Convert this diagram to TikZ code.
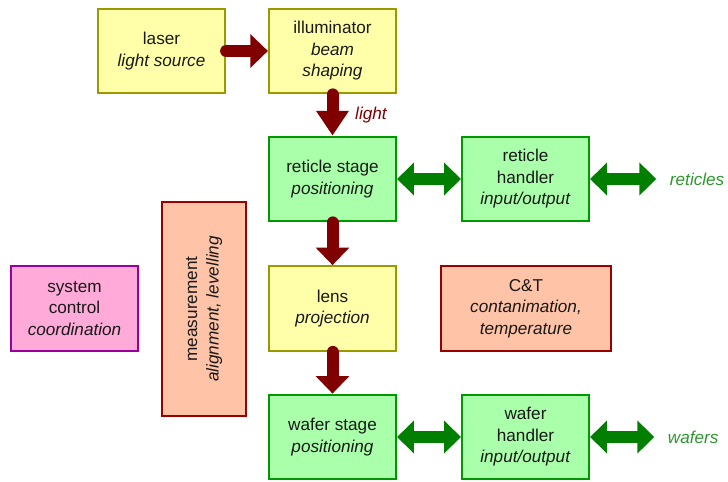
\documentclass[tikz,border=0pt]{standalone}
\usepackage{fontspec}
\setmainfont{Liberation Sans}
\usetikzlibrary{arrows.meta}
\definecolor{optfill}{HTML}{FFFFAA}
\definecolor{optdraw}{HTML}{9A9A00}
\definecolor{mechfill}{HTML}{AAFFAA}
\definecolor{mechdraw}{HTML}{009A00}
\definecolor{ctrlfill}{HTML}{FFAAD8}
\definecolor{ctrldraw}{HTML}{990099}
\definecolor{metrofill}{HTML}{FFC4A8}
\definecolor{metrodraw}{HTML}{990000}
\definecolor{beam}{HTML}{800000}
\definecolor{handling}{HTML}{007F00}
\definecolor{handlingtext}{HTML}{2F962F}
\tikzset{
    block/.style = { draw, line width=1.4pt, align=center, text=black!90,
                     minimum width=3.18cm, minimum height=2.12cm, inner sep=2pt },
    optics/.style = { block, fill=optfill, draw=optdraw },
    mech/.style = { block, fill=mechfill, draw=mechdraw },
    ctrl/.style = { block, fill=ctrlfill, draw=ctrldraw },
    metro/.style = { block, fill=metrofill, draw=metrodraw }
}

\begin{document}
\begin{tikzpicture}[
    x=0.025cm, y=-0.025cm,
    font=\fontsize{12.2pt}{15.3pt}\selectfont,
    flow/.style = { line width=0.3cm, beam, line cap=round,
                    -{Triangle[width=0.82cm, length=0.44cm]} },
    transfer/.style = { line width=0.3cm, handling,
                        {Triangle[width=0.8cm, length=0.42cm]}-{Triangle[width=0.8cm, length=0.42cm]} },
    outside/.style = { handlingtext, font=\fontsize{12.2pt}{15.3pt}\selectfont\itshape, anchor=west }
    ]
    \useasboundingbox (0,0) rectangle (728,481);

    %%%
    %%% Light path
    %%%
    \node[optics] (laser)  at (161.5,51)  {laser\\\textit{light source}};
    \node[optics] (illum)  at (332.5,51)  {illuminator\\\textit{beam}\\\textit{shaping}};
    \node[mech]   (rstage) at (332.5,179) {reticle stage\\\textit{positioning}};
    \node[optics] (lens)   at (332.5,308.5) {lens\\\textit{projection}};
    \node[mech]   (wstage) at (332.5,437) {wafer stage\\\textit{positioning}};
    % Beam arrows
    \draw[flow] (laser.east) -- (illum.west);
    \draw[flow, -{Triangle[width=0.78cm, length=0.62cm]}] (illum.south)
      -- node[right=0.3cm, beam, font=\fontsize{12.2pt}{15.3pt}\selectfont\itshape] {light} (rstage.north);
    \draw[flow] (rstage.south) -- (lens.north);
    \draw[flow] (lens.south) -- (wstage.north);

    %%%
    %%% Handlers
    %%%
    \node[mech] (rhandler) at (525.5,179) {reticle\\handler\\\textit{input/output}};
    \node[mech] (whandler) at (525.5,437) {wafer\\handler\\\textit{input/output}};
    \node[outside] (reticles) at (665,179) {reticles};
    \node[outside] (wafers)   at (663,437) {wafers};
    % Transfer arrows
    \foreach \from / \to in {rstage/rhandler, wstage/whandler}
      {
        \draw[transfer] (\from.east) -- (\to.west);
      }
    \draw[transfer] (rhandler.east) -- ([xshift=-0.22cm]reticles.west);
    \draw[transfer] (whandler.east) -- ([xshift=-0.22cm]wafers.west);

    %%%
    %%% Control and metrology
    %%%
    \node[ctrl]  (syscon) at (74.5,308.5) {system\\control\\\textit{coordination}};
    \node[metro, minimum width=5.35cm, minimum height=2.1cm, rotate=90] (meas) at (204,309)
      {measurement\\\textit{alignment, levelling}};
    \node[metro, minimum width=4.25cm] (ct) at (526,308.5) {C\&T\\\textit{contanimation,}\\\textit{temperature}};
\end{tikzpicture}
\end{document}
